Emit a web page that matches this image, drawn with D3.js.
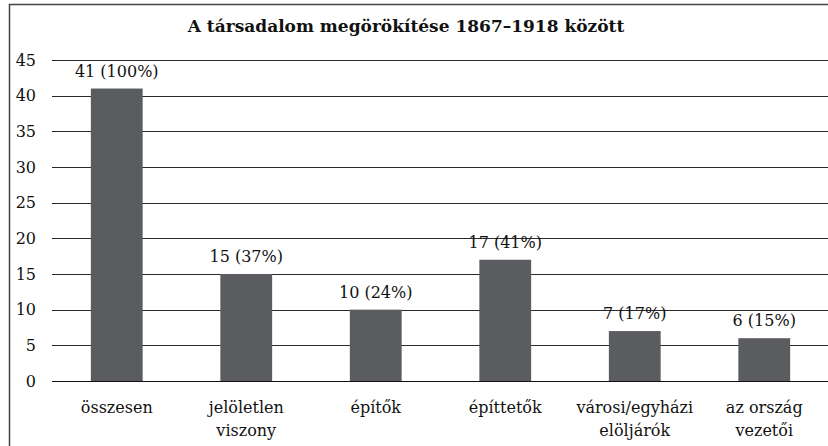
<!DOCTYPE html>
<html>
<head>
<meta charset="utf-8">
<script src="https://cdn.jsdelivr.net/npm/d3@7"></script>
<style>
  html, body { margin: 0; padding: 0; background: #fff; }
  svg text { font-family: "DejaVu Serif", Georgia, serif; fill: #111; }
</style>
</head>
<body>
<script>
// data
const categories = [["összesen"], ["jelöletlen", "viszony"], ["építők"], ["építtetők"], ["városi/egyházi", "elöljárók"], ["az ország", "vezetői"]];
const counts = [41, 15, 10, 17, 7, 6];
const shares = [100, 37, 24, 41, 17, 15];
const yTicks = [0, 5, 10, 15, 20, 25, 30, 35, 40, 45];
const title = "A társadalom megörökítése 1867–1918 között";

const w = 828, h = 446;
const padLeft = 52, padRight = 829, padTop = 60, padBottom = 381;

const svg = d3.select("body").append("svg")
  .attr("width", w)
  .attr("height", h);

// frame (cut off at right/bottom like the source)
svg.append("rect")
  .attr("x", 9.5).attr("y", 4.5)
  .attr("width", 900).attr("height", 500)
  .attr("fill", "none")
  .attr("stroke", "#444")
  .attr("stroke-width", 1.5);

svg.append("text")
  .attr("x", 406).attr("y", 32)
  .attr("text-anchor", "middle")
  .style("font-weight", "bold")
  .style("font-size", "17px")
  .text(title);

const idx = d3.range(counts.length);
const x = d3.scaleBand()
  .domain(idx)
  .range([padLeft, padRight])
  .paddingInner(0.6)
  .paddingOuter(0.3);

const y = d3.scaleLinear()
  .domain([0, 45])
  .range([padBottom, padTop]);

// gridlines
svg.append("g")
  .selectAll("line")
  .data(yTicks.filter(d => d > 0))
  .enter()
  .append("line")
  .attr("x1", padLeft).attr("x2", w)
  .attr("y1", d => Math.round(y(d)) + 0.5)
  .attr("y2", d => Math.round(y(d)) + 0.5)
  .attr("stroke", "#2a2a2a")
  .attr("stroke-width", 1);

const yAxis = d3.axisLeft(y).tickValues(yTicks).tickSize(0).tickPadding(16);
svg.append("g")
  .attr("transform", "translate(" + padLeft + ",0)")
  .call(yAxis)
  .call(g => g.select(".domain").remove())
  .call(g => g.selectAll("text")
    .style("font-size", "16px")
    .style("font-family", "DejaVu Serif, serif")
    .attr("fill", "#111"));

// bars
svg.selectAll("rect.bar")
  .data(idx)
  .enter()
  .append("rect")
  .attr("class", "bar")
  .attr("x", i => x(i))
  .attr("y", i => y(counts[i]))
  .attr("width", x.bandwidth())
  .attr("height", i => y(0) - y(counts[i]))
  .attr("fill", "#5b5c5f");

// baseline
svg.append("line")
  .attr("x1", padLeft).attr("x2", w)
  .attr("y1", Math.round(y(0)) + 0.5).attr("y2", Math.round(y(0)) + 0.5)
  .attr("stroke", "#111")
  .attr("stroke-width", 1.2);

// value labels
svg.selectAll("text.val")
  .data(idx)
  .enter()
  .append("text")
  .attr("class", "val")
  .attr("x", i => x(i) + x.bandwidth() / 2)
  .attr("y", i => y(counts[i]) - 12)
  .attr("text-anchor", "middle")
  .style("font-size", "16px")
  .text(i => counts[i] + " (" + shares[i] + "%)");

// category labels
const cat = svg.selectAll("text.cat")
  .data(idx)
  .enter()
  .append("text")
  .attr("class", "cat")
  .attr("text-anchor", "middle")
  .style("font-size", "16px");

cat.selectAll("tspan")
  .data(i => categories[i].map(t => ({ t, i })))
  .enter()
  .append("tspan")
  .attr("x", d => x(d.i) + x.bandwidth() / 2)
  .attr("y", (d, j) => 413 + j * 23)
  .text(d => d.t);
</script>
</body>
</html>
